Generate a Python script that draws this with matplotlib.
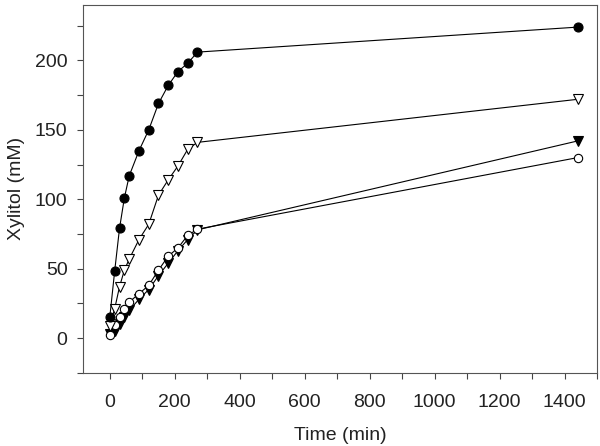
import matplotlib.pyplot as plt
from matplotlib.ticker import MultipleLocator

plt.rcParams['font.family'] = ['Liberation Sans', 'DejaVu Sans']

# sampling times (min)
time = [0, 15, 30, 45, 60, 90, 120, 150, 180, 210, 240, 270, 1440]

# xylitol (mM), one list per condition
filled_circle = [15, 48, 79, 101, 117, 135, 150, 169, 182, 192, 198, 206, 224]
open_triangle = [9, 21, 37, 49, 57, 71, 82, 103, 114, 124, 136, 141, 172]
filled_triangle = [3, 5, 10, 15, 20, 28, 35, 45, 54, 63, 71, 78, 142]
open_circle = [2.5, 9.5, 15.5, 21, 26, 32, 38, 49, 59, 65, 74, 78.5, 130]

fig = plt.figure(figsize=(6, 4.46), dpi=100)
ax = fig.add_axes([0.138, 0.164, 0.857, 0.825])

lw = 0.8
ax.plot(time, filled_triangle, '-v', color='black', lw=lw, ms=6.5,
        mfc='black', mec='black', mew=0.8, zorder=2)
ax.plot(time, open_circle, '-o', color='black', lw=lw, ms=6,
        mfc='white', mec='black', mew=0.8, zorder=3)
ax.plot(time, open_triangle, '-v', color='black', lw=lw, ms=7,
        mfc='white', mec='black', mew=0.8, zorder=4)
ax.plot(time, filled_circle, '-o', color='black', lw=lw, ms=6.5,
        mfc='black', mec='black', mew=0.8, zorder=5)

ax.set_xlim(-83, 1500)
ax.set_ylim(-25, 240)
ax.xaxis.set_major_locator(MultipleLocator(200))
ax.xaxis.set_minor_locator(MultipleLocator(100))
ax.yaxis.set_major_locator(MultipleLocator(50))
ax.yaxis.set_minor_locator(MultipleLocator(25))
ax.set_yticks([0, 50, 100, 150, 200])
ax.tick_params(which='both', direction='out', length=4, width=0.8,
               color='#444444', labelsize=14, labelcolor='#222222')
ax.tick_params(axis='x', pad=11)
ax.tick_params(axis='y', pad=7)

for s in ax.spines.values():
    s.set_color('#555555')
    s.set_linewidth(0.8)

ax.set_xlabel('Time (min)', fontsize=14, color='#222222', labelpad=12)
ax.set_ylabel('Xylitol (mM)', fontsize=14, color='#222222', labelpad=7)

plt.savefig('out.png', dpi=100)
